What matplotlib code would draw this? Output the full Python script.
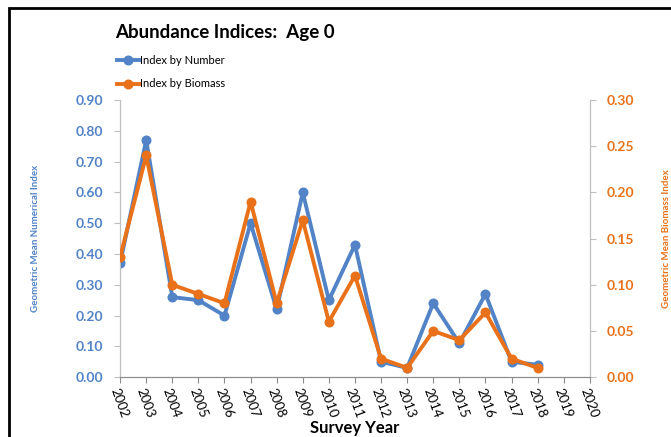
import matplotlib.pyplot as plt
from matplotlib.patches import Rectangle

plt.rcParams['font.family'] = ['Lato', 'DejaVu Sans']

years = [str(y) for y in range(2002, 2021)]
number_years = list(range(2002, 2019))
index_number = [0.37, 0.77, 0.26, 0.25, 0.20, 0.50, 0.22, 0.60, 0.25, 0.43,
                0.05, 0.03, 0.24, 0.11, 0.27, 0.05, 0.04]
index_biomass = [0.13, 0.24, 0.10, 0.09, 0.08, 0.19, 0.08, 0.17, 0.06, 0.11,
                 0.02, 0.01, 0.05, 0.04, 0.07, 0.02, 0.01]
left_ticks = [0.0, 0.1, 0.2, 0.3, 0.4, 0.5, 0.6, 0.7, 0.8, 0.9]
right_ticks = [0.0, 0.05, 0.10, 0.15, 0.20, 0.25, 0.30]

blue = '#5183C6'
orange = '#E8711A'
grey = '#BFBFBF'

fig = plt.figure(figsize=(6.71, 4.37), dpi=100)
ax = fig.add_axes([0.179, 0.137, 0.700, 0.634])
ax2 = ax.twinx()

x = [years.index(str(y)) for y in number_years]
l1, = ax.plot(x, index_number, color=blue, lw=2.8, marker='o', ms=6.2,
              label='Index by Number', zorder=3)
l2, = ax2.plot(x, index_biomass, color=orange, lw=2.8, marker='o', ms=6.2,
               label='Index by Biomass', zorder=3)

ax.set_xlim(0, len(years) - 1)
ax.set_ylim(0, 0.9)
ax2.set_ylim(0, 0.3)
ax.set_xticks(range(len(years)))
ax.set_xticklabels(years, rotation=-70, ha='left', va='top',
                   rotation_mode='anchor', fontsize=9.5)
ax.set_yticks(left_ticks)
ax.set_yticklabels(['%.2f' % v for v in left_ticks])
ax2.set_yticks(right_ticks)
ax2.set_yticklabels(['%.2f' % v for v in right_ticks])

for lab in ax.get_yticklabels():
    lab.set_color(blue)
    lab.set_fontweight('bold')
    lab.set_fontsize(10)
for lab in ax2.get_yticklabels():
    lab.set_color(orange)
    lab.set_fontweight('bold')
    lab.set_fontsize(10)

for a in (ax, ax2):
    a.spines['top'].set_visible(False)
    a.spines['left'].set_color(grey)
    a.spines['right'].set_color(grey)
    a.spines['bottom'].set_color('#8C8C8C')
ax.tick_params(axis='y', length=4, color=grey, pad=8)
ax2.tick_params(axis='y', length=4, color=grey, pad=8)
ax.tick_params(axis='x', length=4, color='#8C8C8C', pad=3)

ax.set_ylabel('Geometric Mean Numerical Index', color=blue, fontsize=7,
              fontweight='bold', labelpad=26)
ax2.set_ylabel('Geometric Mean Biomass Index', color=orange, fontsize=7,
               fontweight='bold', rotation=90, labelpad=20)
ax.set_xlabel('Survey Year', fontsize=12, fontweight='bold', labelpad=0)

fig.text(0.171, 0.925, 'Abundance Indices:  Age 0', fontsize=13.5,
         fontweight='bold', va='center')
fig.legend(handles=[l1, l2], loc='upper left', bbox_to_anchor=(0.168, 0.885),
           frameon=False, fontsize=8, handlelength=2.0, handletextpad=0.05,
           labelspacing=1.15, borderaxespad=0)

fig.patches.append(Rectangle((0.014, -0.05), 1.2, 1.032,
                             transform=fig.transFigure, fill=False,
                             edgecolor='black', lw=2, clip_on=False))

fig.savefig('out.png', dpi=100)
